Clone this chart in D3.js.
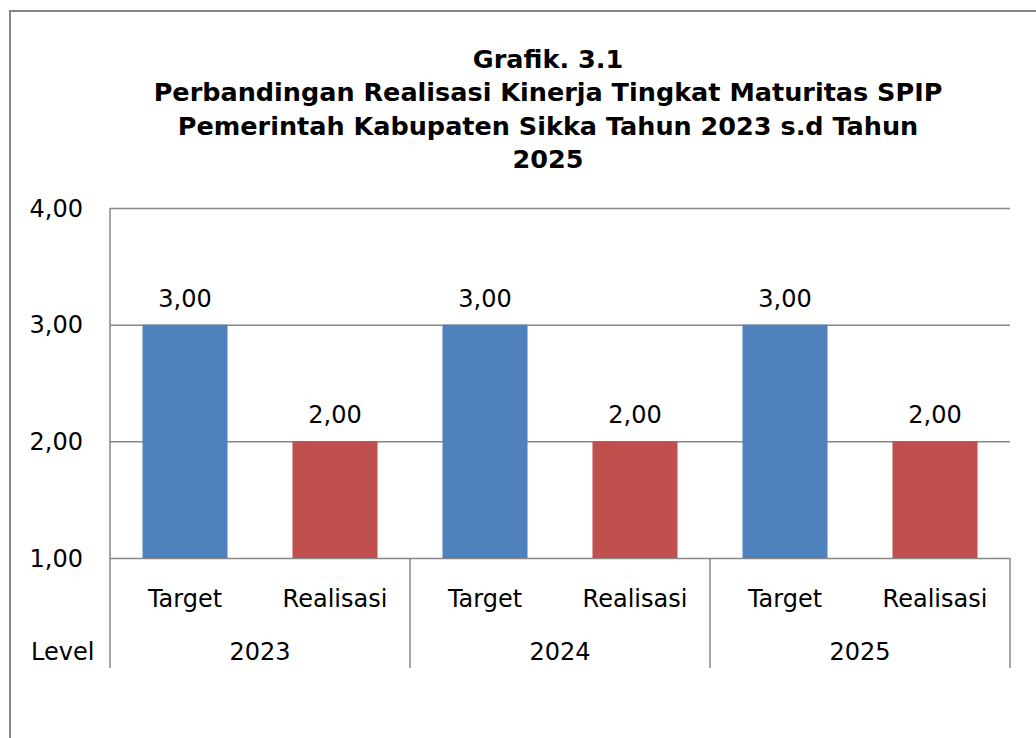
<!DOCTYPE html>
<html>
<head>
<meta charset="utf-8">
<script src="https://cdn.jsdelivr.net/npm/d3@7"></script>
<style>
  html, body { margin: 0; padding: 0; background: #fff; }
  svg text { font-family: 'DejaVu Sans', sans-serif; fill: #000; }
  .title { font-family: 'DejaVu Sans', sans-serif; font-weight: bold; font-size: 25.5px; }
</style>
</head>
<body>
<svg id="chart" width="1036" height="738"></svg>
<script>
const years = ['2023', '2024', '2025'];
const categories = ['Target', 'Realisasi'];
const targetValues = [3.00, 3.00, 3.00];
const realisasiValues = [2.00, 2.00, 2.00];
const yTicks = [1, 2, 3, 4];
const titleLines = [
  'Grafik. 3.1',
  'Perbandingan Realisasi Kinerja Tingkat Maturitas SPIP',
  'Pemerintah Kabupaten Sikka Tahun 2023 s.d Tahun',
  '2025'
];
const colors = { Target: '#4f81bd', Realisasi: '#c0504d' };

const width = 1036, height = 738;
const margin = { top: 208, right: 26, bottom: 180, left: 110 };
const gridColor = '#878787';
const fmt = v => d3.format('.2f')(v).replace('.', ',');

const svg = d3.select('#chart');

// outer chart border (runs off the right and bottom edge)
svg.append('rect')
  .attr('x', 10).attr('y', 11)
  .attr('width', width).attr('height', height)
  .attr('fill', 'none').attr('stroke', gridColor).attr('stroke-width', 2);

// title
svg.append('g').selectAll('text')
  .data(titleLines)
  .join('text')
  .attr('class', 'title')
  .attr('x', 548)
  .attr('y', (d, i) => 67.5 + i * 33.5)
  .attr('text-anchor', 'middle')
  .text(d => d);

const rows = years.map((y, i) => ({ year: y, Target: targetValues[i], Realisasi: realisasiValues[i] }));

const x0 = d3.scaleBand().domain(years).range([margin.left, width - margin.right]).padding(0);
const x1 = d3.scaleBand().domain(categories).range([0, x0.bandwidth()])
  .paddingInner(0.433).paddingOuter(0.2167);
const y = d3.scaleLinear().domain([1, 4]).range([height - margin.bottom, margin.top]);

// gridlines
svg.append('g')
  .attr('transform', `translate(${margin.left},0)`)
  .call(d3.axisLeft(y).tickValues(yTicks).tickSize(-(width - margin.left - margin.right)).tickFormat(''))
  .call(g => g.select('.domain').remove())
  .call(g => g.selectAll('line').attr('stroke', gridColor).attr('stroke-width', 1.5));

// y tick labels
svg.append('g').selectAll('text')
  .data(yTicks)
  .join('text')
  .attr('x', 83)
  .attr('y', d => y(d))
  .attr('dy', '0.36em')
  .attr('text-anchor', 'end')
  .style('font-size', '24px')
  .text(fmt);

// bars
const groups = svg.append('g').selectAll('g')
  .data(rows)
  .join('g')
  .attr('transform', d => `translate(${x0(d.year)},0)`);

groups.selectAll('rect')
  .data(d => categories.map(c => ({ key: c, value: d[c] })))
  .join('rect')
  .attr('x', d => x1(d.key))
  .attr('width', x1.bandwidth())
  .attr('y', d => y(d.value))
  .attr('height', d => y(1) - y(d.value))
  .attr('fill', d => colors[d.key]);

groups.selectAll('text.val')
  .data(d => categories.map(c => ({ key: c, value: d[c] })))
  .join('text')
  .attr('class', 'val')
  .attr('x', d => x1(d.key) + x1.bandwidth() / 2)
  .attr('y', d => y(d.value) - 18)
  .attr('text-anchor', 'middle')
  .style('font-size', '24px')
  .text(d => fmt(d.value));

// axes lines
svg.append('line')
  .attr('x1', margin.left).attr('x2', margin.left)
  .attr('y1', y(4)).attr('y2', y(1))
  .attr('stroke', gridColor).attr('stroke-width', 1.5);

// category separators below the axis
const bounds = years.map(d => x0(d)).concat([x0(years[years.length - 1]) + x0.bandwidth()]);
svg.append('g').selectAll('line')
  .data(bounds)
  .join('line')
  .attr('x1', d => d).attr('x2', d => d)
  .attr('y1', y(1)).attr('y2', y(1) + 110)
  .attr('stroke', gridColor).attr('stroke-width', 1.5);

// category labels
groups.selectAll('text.cat')
  .data(categories)
  .join('text')
  .attr('class', 'cat')
  .attr('x', d => x1(d) + x1.bandwidth() / 2)
  .attr('y', y(1) + 49)
  .attr('text-anchor', 'middle')
  .style('font-size', '24px')
  .text(d => d);

// year labels
groups.append('text')
  .attr('x', x0.bandwidth() / 2)
  .attr('y', y(1) + 102)
  .attr('text-anchor', 'middle')
  .style('font-size', '24px')
  .text(d => d.year);

svg.append('text')
  .attr('x', 31)
  .attr('y', y(1) + 102)
  .style('font-size', '24px')
  .text('Level');
</script>
</body>
</html>
